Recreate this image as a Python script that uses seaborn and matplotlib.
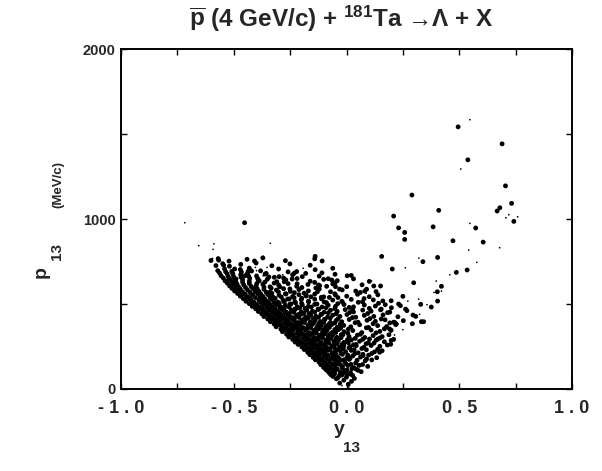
import numpy as np
import pandas as pd
import matplotlib
matplotlib.use("Agg")
import matplotlib.pyplot as plt
import seaborn as sns
from matplotlib.ticker import FixedLocator

# ---------------- data (rapidity y13, momentum p13 in MeV/c) -------------
# dense band, lower part (p13 < 300)
dense_low = [(-0.03,35),(-0.012,52),(0.008,28),(0.022,45),(-0.045,60),
 (-0.06,74),(-0.038,66),(-0.02,82),(0.0,70),(0.018,88),(0.035,62),(-0.075,92),
 (-0.082,104),(-0.063,96),(-0.048,112),(-0.028,99),(-0.008,108),(0.018,95),(0.043,117),(0.065,102),(-0.095,121),
 (-0.102,128),(-0.087,140),(-0.07,124),(-0.052,135),(-0.037,147),(-0.018,131),(0.006,138),(0.032,126),(0.071,144),(0.094,133),
 (-0.122,158),(-0.108,171),(-0.093,152),(-0.076,165),(-0.058,175),(-0.044,156),(-0.029,168),(-0.008,161),(0.012,174),(0.041,153),(0.083,166),(0.112,171),
 (-0.148,186),(-0.131,197),(-0.118,182),(-0.101,193),(-0.086,201),(-0.068,185),(-0.054,196),(-0.039,189),(-0.018,204),(0.002,183),(0.028,195),(0.062,188),(0.098,199),(0.134,184),
 (-0.172,216),(-0.157,228),(-0.141,212),(-0.126,225),(-0.112,234),(-0.096,218),(-0.079,229),(-0.061,214),(-0.046,226),(-0.027,232),(-0.004,219),(0.021,227),(0.052,213),(0.088,231),(0.124,218),(0.158,225),
 (-0.198,247),(-0.184,258),(-0.169,243),(-0.153,255),(-0.137,262),(-0.121,248),(-0.103,257),(-0.087,244),(-0.066,253),(-0.051,261),(-0.031,246),(-0.012,255),(0.016,249),(0.042,262),(0.077,245),(0.109,256),(0.148,251),(0.181,259),
 (-0.228,276),(-0.214,287),(-0.199,273),(-0.182,284),(-0.166,292),(-0.147,278),(-0.131,288),(-0.112,274),(-0.092,285),(-0.077,293),(-0.056,279),(-0.036,286),(-0.011,274),(0.022,289),(0.058,281),(0.097,272),(0.131,287),(0.168,278),(0.198,286)]

dense_low_b = [(-0.068,83),(-0.052,90),(-0.031,79),(-0.015,93),(0.004,86),(0.027,80),
 (-0.09,113),(-0.074,120),(-0.056,110),(-0.041,118),(-0.019,123),(0.002,112),(0.024,119),(0.051,110),
 (-0.114,143),(-0.099,151),(-0.081,139),(-0.064,148),(-0.047,154),(-0.025,141),(-0.003,149),(0.02,145),(0.056,139),
 (-0.138,172),(-0.123,180),(-0.104,168),(-0.087,177),(-0.066,183),(-0.049,170),(-0.032,178),(-0.011,172),(0.016,181),(0.047,169),(0.089,176),
 (-0.163,202),(-0.147,210),(-0.133,198),(-0.116,207),(-0.099,214),(-0.083,200),(-0.064,209),(-0.047,203),(-0.024,211),(0.006,199),(0.037,208),(0.073,204),(0.112,209),
 (-0.187,232),(-0.172,240),(-0.158,228),(-0.142,238),(-0.128,244),(-0.109,230),(-0.093,239),(-0.074,233),(-0.053,241),(-0.036,229),(-0.014,237),(0.011,242),(0.034,231),(0.068,238),(0.138,233),
 (-0.214,262),(-0.199,270),(-0.183,258),(-0.167,268),(-0.151,274),(-0.133,260),(-0.117,269),(-0.096,263),(-0.079,271),(-0.058,259),(-0.041,268),(-0.019,264),(0.008,272),(0.031,260),(0.087,266),(0.122,270),
 (-0.239,292),(-0.224,300),(-0.211,288),(-0.193,298),(-0.177,304),(-0.159,290),(-0.143,299),(-0.124,293),(-0.106,301),(-0.087,289),(-0.068,297),(-0.046,294),(-0.024,302),(0.004,290),(0.039,298),(0.072,292),(0.148,300)]

# dense band, middle part (300 <= p13 < 500)
dense_mid = [(-0.256,306),(-0.241,318),(-0.226,302),(-0.209,314),(-0.192,321),(-0.176,308),(-0.157,317),(-0.141,303),(-0.122,313),(-0.101,322),(-0.082,307),(-0.061,316),(-0.042,304),(-0.016,319),(0.011,309),(0.048,317),(0.081,303),(0.118,314),(0.158,308),(0.188,319),
 (-0.284,337),(-0.269,348),(-0.252,333),(-0.236,344),(-0.217,352),(-0.201,336),(-0.182,347),(-0.166,332),(-0.146,343),(-0.127,351),(-0.106,338),(-0.086,346),(-0.062,334),(-0.036,349),(-0.011,337),(0.028,344),(0.068,332),(0.109,347),(0.148,339),(0.198,346),
 (-0.312,366),(-0.296,377),(-0.281,362),(-0.262,373),(-0.246,381),(-0.227,365),(-0.211,376),(-0.192,361),(-0.171,372),(-0.152,380),(-0.131,364),(-0.112,375),(-0.091,368),(-0.066,379),(-0.041,363),(-0.012,374),(0.019,366),(0.058,378),(0.098,362),(0.138,373),(0.178,367),(0.218,379),
 (-0.338,396),(-0.324,407),(-0.306,392),(-0.289,403),(-0.271,411),(-0.256,395),(-0.236,406),(-0.216,391),(-0.199,402),(-0.181,410),(-0.161,394),(-0.139,405),(-0.116,397),(-0.096,408),(-0.071,392),(-0.046,403),(-0.021,396),(0.012,409),(0.051,393),(0.091,404),(0.128,398),(0.171,407),(0.209,393),(0.252,402),
 (-0.366,426),(-0.349,437),(-0.331,422),(-0.314,433),(-0.296,441),(-0.279,425),(-0.261,436),(-0.241,421),(-0.222,432),(-0.199,440),(-0.181,424),(-0.159,435),(-0.136,428),(-0.111,439),(-0.084,423),(-0.061,434),(-0.029,427),(0.002,438),(0.041,422),(0.079,433),(0.121,427),(0.162,436),(0.228,425),
 (-0.391,456),(-0.374,467),(-0.358,452),(-0.341,463),(-0.322,471),(-0.304,455),(-0.286,466),(-0.266,451),(-0.244,462),(-0.226,470),(-0.201,454),(-0.176,465),(-0.151,457),(-0.124,468),(-0.099,452),(-0.071,463),(-0.041,456),(-0.006,467),(0.031,453),(0.072,464),(0.109,458),(0.151,466),(0.192,452),(0.268,461),
 (-0.418,486),(-0.404,497),(-0.386,482),(-0.368,493),(-0.351,501),(-0.329,485),(-0.311,496),(-0.289,481),(-0.271,492),(-0.246,500),(-0.219,484),(-0.196,495),(-0.169,487),(-0.141,498),(-0.109,482),(-0.081,493),(-0.049,486),(-0.011,497),(0.031,483),(0.079,494),(0.128,488),(0.172,496)]

dense_mid_b = [(-0.266,322),(-0.251,330),(-0.237,318),(-0.219,328),(-0.203,334),(-0.186,320),(-0.169,329),(-0.151,323),(-0.134,331),(-0.114,319),(-0.093,327),(-0.072,324),(-0.048,332),(-0.023,320),(0.006,328),(0.062,322),(0.131,330),
 (-0.291,352),(-0.277,360),(-0.262,348),(-0.246,358),(-0.229,364),(-0.211,350),(-0.196,359),(-0.177,353),(-0.159,361),(-0.139,349),(-0.119,357),(-0.098,354),(-0.076,362),(-0.052,350),(-0.026,358),(0.008,352),(0.088,360),(0.168,354),
 (-0.321,382),(-0.306,390),(-0.291,378),(-0.274,388),(-0.257,394),(-0.239,380),(-0.222,389),(-0.204,383),(-0.186,391),(-0.166,379),(-0.146,387),(-0.124,384),(-0.101,392),(-0.079,380),(-0.052,388),(-0.028,382),(0.038,390),(0.118,384),(0.192,389),
 (-0.349,412),(-0.334,420),(-0.318,408),(-0.302,418),(-0.284,424),(-0.266,410),(-0.249,419),(-0.231,413),(-0.211,421),(-0.191,409),(-0.169,417),(-0.147,414),(-0.124,422),(-0.098,410),(-0.072,418),(-0.038,412),(0.026,420),(0.104,414),
 (-0.376,442),(-0.361,450),(-0.344,438),(-0.327,448),(-0.309,454),(-0.291,440),(-0.272,449),(-0.253,443),(-0.233,451),(-0.212,439),(-0.189,447),(-0.166,444),(-0.141,452),(-0.113,440),(-0.081,448),(-0.046,442),(0.014,450),(0.094,444),(0.182,449),
 (-0.403,472),(-0.388,480),(-0.371,468),(-0.353,478),(-0.334,484),(-0.316,470),(-0.296,479),(-0.276,473),(-0.254,481),(-0.231,469),(-0.208,477),(-0.184,474),(-0.156,482),(-0.126,470),(-0.091,478),(-0.052,472),(0.012,480),(0.101,474)]

# dense band, upper part (p13 >= 500)
dense_high = [(-0.446,516),(-0.429,527),(-0.411,512),(-0.389,523),(-0.371,531),(-0.349,515),(-0.331,526),(-0.304,511),(-0.281,522),(-0.254,530),(-0.229,514),(-0.201,525),(-0.169,517),(-0.141,528),(-0.099,512),(-0.061,523),(-0.021,516),(0.021,527),(0.071,513),(0.119,524),(0.161,518),
 (-0.471,546),(-0.456,557),(-0.434,542),(-0.416,553),(-0.394,561),(-0.371,545),(-0.349,556),(-0.326,541),(-0.299,552),(-0.271,560),(-0.239,544),(-0.211,555),(-0.179,547),(-0.141,558),(-0.101,542),(-0.049,553),(0.001,546),(0.049,557),(0.101,543),(0.139,554),
 (-0.496,576),(-0.479,587),(-0.461,572),(-0.439,583),(-0.416,591),(-0.389,575),(-0.366,586),(-0.339,571),(-0.311,582),(-0.279,590),(-0.249,574),(-0.211,585),(-0.169,577),(-0.121,588),(-0.071,572),(-0.019,583),(0.041,576),(0.089,587),(0.131,573),
 (-0.518,606),(-0.501,617),(-0.479,602),(-0.456,613),(-0.431,621),(-0.401,605),(-0.371,616),(-0.339,601),(-0.301,612),(-0.259,620),(-0.221,604),(-0.171,615),(-0.119,607),(-0.061,618),(0.001,602),(0.069,613),(0.121,606),
 (-0.538,636),(-0.519,647),(-0.491,632),(-0.461,643),(-0.429,651),(-0.391,635),(-0.351,646),(-0.309,631),(-0.269,642),(-0.219,650),(-0.161,634),(-0.101,645),(-0.041,637),(0.031,648),(0.101,633),
 (-0.556,666),(-0.529,677),(-0.501,662),(-0.469,673),(-0.439,681),(-0.399,665),(-0.361,676),(-0.299,661),(-0.239,672),(-0.181,680),(-0.121,664),(-0.051,675),(0.021,668),
 (-0.571,696),(-0.541,707),(-0.509,692),(-0.471,703),(-0.431,711),(-0.381,695),(-0.301,706),(-0.221,691),(-0.139,702),(-0.061,710),
 (-0.579,726),(-0.549,737),(-0.519,722),(-0.469,733),(-0.401,741),(-0.331,725),(-0.251,736),(-0.161,728),
 (-0.601,756),(-0.569,767),(-0.521,752),(-0.441,763),(-0.371,771),(-0.271,755),(-0.141,766)]

dense_high_b = [(-0.431,502),(-0.416,510),(-0.398,498),(-0.379,508),(-0.361,514),(-0.341,500),(-0.321,509),(-0.298,503),(-0.276,511),(-0.251,499),(-0.226,507),(-0.199,504),(-0.168,512),(-0.131,500),(-0.089,508),(-0.039,502),(0.052,510),(0.142,504),
 (-0.458,532),(-0.442,540),(-0.424,528),(-0.404,538),(-0.384,544),(-0.362,530),(-0.339,539),(-0.316,533),(-0.289,541),(-0.261,529),(-0.232,537),(-0.198,534),(-0.158,542),(-0.111,530),(-0.038,538),(0.078,532),
 (-0.483,562),(-0.467,570),(-0.449,558),(-0.428,568),(-0.406,574),(-0.381,560),(-0.356,569),(-0.331,563),(-0.302,571),(-0.268,559),(-0.231,567),(-0.188,564),(-0.129,572),(-0.052,560),(0.061,568),
 (-0.508,592),(-0.491,600),(-0.471,588),(-0.448,598),(-0.423,604),(-0.396,590),(-0.366,599),(-0.334,593),(-0.296,601),(-0.251,589),(-0.198,597),(-0.136,594),(-0.049,602),
 (-0.528,622),(-0.509,630),(-0.486,618),(-0.461,628),(-0.431,634),(-0.398,620),(-0.362,629),(-0.321,623),(-0.276,631),(-0.219,619),(-0.141,627),(-0.051,624),
 (-0.546,652),(-0.524,660),(-0.497,648),(-0.468,658),(-0.434,664),(-0.394,650),(-0.344,659),(-0.279,653),(-0.196,661),(-0.081,649),
 (-0.563,682),(-0.536,690),(-0.504,678),(-0.466,688),(-0.421,694),(-0.356,680),(-0.259,689),(-0.109,683)]

# isolated large dots
big_dots = [(0.495,1542),(0.690,1442),(0.538,1348),(0.705,1195),(0.732,1092),(0.680,1066),(0.668,1047),
 (0.742,986),(0.573,947),(0.472,872),(0.606,864),(0.535,700),(0.487,686),(0.421,604),(0.209,1017),
 (0.409,1051),(0.290,1141),(0.231,948),(0.258,921),(0.384,954),(0.258,880),(0.156,780),(0.339,749),(0.404,774),
 (0.203,706),(0.298,625),(0.151,606),(0.403,572),(0.250,545),(-0.452,978),(-0.139,780),(-0.108,753),
 (0.003,666),(0.404,517),(0.231,500),(0.239,490),(0.329,498),(0.376,482),(0.199,478),(0.262,470),
 (0.295,435),(0.307,427),(0.332,396),(0.342,396),(0.292,384),(0.213,392),(0.221,382),(0.209,292),
 (0.196,263),(0.081,576),(-0.065,641),(-0.124,612),(-0.088,604),(-0.031,588),(-0.076,539),(-0.112,539),
 (-0.179,553),(-0.241,647),(-0.231,682),(-0.32,657),(-0.567,758),(-0.545,729),(-0.496,706),(-0.436,692),
 (-0.408,753),(-0.45,666),(-0.52,647),(-0.49,647),(-0.387,637),(-0.018,511),(0.027,470),(0.198,519),
 (0.154,470),(0.154,412),(0.191,353),(0.139,294),(0.102,294),(0.073,196),(0.147,216),(0.043,255)]

# isolated small dots
small_dots = [(0.547,1584),(0.507,1294),(0.72,1025),(0.759,1013),(0.707,1007),(0.547,974),(0.542,817),
 (0.679,831),(0.578,745),(0.458,672),(0.421,576),(0.321,770),(0.261,713),(0.398,635),(0.111,635),
 (0.388,568),(0.272,517),(0.32,529),(0.357,496),(0.324,439),(0.25,349),(0.196,331),(0.213,318),
 (-0.717,978),(-0.655,843),(-0.588,854),(-0.592,821),(-0.594,768),(-0.338,857),(-0.192,710),
 (-0.258,696),(-0.283,672),(-0.046,635),(-0.145,564),(-0.369,780),(-0.404,715),(-0.399,696),
 (-0.464,676),(-0.369,666),(-0.352,715),(0.087,563),(-0.02,20),(0.01,12),(0.005,30)]

x_ticks = [-1.0, -0.5, 0.0, 0.5, 1.0]
x_tick_labels = ["- 1 . 0", "- 0 . 5", "0 . 0", "0 . 5", "1 . 0"]
y_ticks = [0, 1000, 2000]
y_tick_labels = ["0", "1000", "2000"]

# ---------------- figure ----------------
sns.set_style("white")
plt.rcParams['font.family'] = ['Liberation Sans', 'DejaVu Sans']
plt.rcParams['mathtext.fontset'] = 'custom'
plt.rcParams['mathtext.rm'] = 'Liberation Sans:bold'
plt.rcParams['mathtext.bf'] = 'Liberation Sans:bold'
plt.rcParams['mathtext.it'] = 'Liberation Sans:bold'

def to_df(pts):
    return pd.DataFrame(pts, columns=["y13", "p13"])

df_dense = pd.concat([to_df(dense_low), to_df(dense_low_b), to_df(dense_mid),
                      to_df(dense_mid_b), to_df(dense_high), to_df(dense_high_b)],
                     ignore_index=True)
df_big = to_df(big_dots)
df_small = to_df(small_dots)

fig = plt.figure(figsize=(6.02, 4.71), dpi=100)
ax = fig.add_axes([121/602, 1-389/471, (572-121)/602, (389-49)/471])

sns.scatterplot(data=df_dense, x="y13", y="p13", s=12, color="black", edgecolor="none",
                linewidth=0, ax=ax, legend=False)
sns.scatterplot(data=df_big, x="y13", y="p13", s=12, color="black", edgecolor="none",
                linewidth=0, ax=ax, legend=False)
sns.scatterplot(data=df_small, x="y13", y="p13", s=1.5, color="black", edgecolor="none",
                linewidth=0, ax=ax, legend=False)

ax.set_xlim(-1.0, 1.0)
ax.set_ylim(0, 2000)
ax.set_xlabel("")
ax.set_ylabel("")
ax.xaxis.set_major_locator(FixedLocator(x_ticks))
ax.xaxis.set_minor_locator(FixedLocator([-0.75, -0.25, 0.25, 0.75]))
ax.yaxis.set_major_locator(FixedLocator(y_ticks))
ax.yaxis.set_minor_locator(FixedLocator([500, 1500]))
ax.set_xticklabels(x_tick_labels, fontsize=13, fontweight="bold")
ax.set_yticklabels(y_tick_labels, fontsize=10.5, fontweight="bold")
ax.tick_params(which="both", direction="in", top=True, right=True, left=True, bottom=True,
               length=4, width=1.0, color="black")
ax.tick_params(axis="x", which="major", pad=8)
ax.tick_params(axis="y", which="major", pad=4)
for sp in ax.spines.values():
    sp.set_color("black")
    sp.set_linewidth(1.4)

# title
fig.text(341/602, 1-19/471, r"$\overline{\mathrm{p}}$ (4 GeV/c) + $^{181}$Ta →Λ + X",
         ha="center", va="center", fontsize=17.5, fontweight="bold")

# x label
fig.text(339/602, 1-429/471, "y", ha="center", va="center", fontsize=14, fontweight="bold")
fig.text(351/602, 1-448/471, "13", ha="center", va="center", fontsize=11, fontweight="bold")

# y label
fig.text(41/602, 1-272/471, "p", ha="center", va="center", fontsize=14, fontweight="bold", rotation=90)
fig.text(57/602, 1-252/471, "13", ha="center", va="center", fontsize=11, fontweight="bold", rotation=90)
fig.text(58/602, 1-185/471, "(MeV/c)", ha="center", va="center", fontsize=9.5, fontweight="bold", rotation=90)

fig.savefig("out.png", dpi=100)
